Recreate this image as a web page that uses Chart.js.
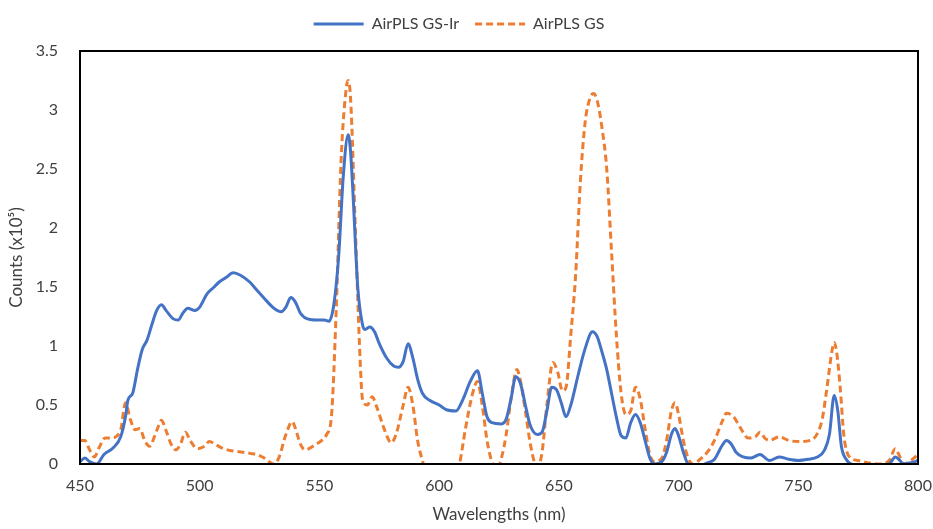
<!DOCTYPE html>
<html>
<head>
  <title>AirPLS spectra</title>
  <script src="https://cdn.jsdelivr.net/npm/chart.js"></script>
  <style>
    body { margin: 0; background: #fff; }
    .box { width: 933px; height: 529px; }
  </style>
</head>
<body>
<div class="box">
  <canvas id="chart" width="933" height="529"></canvas>
</div>
<script>
// AirPLS GS-Ir (blue, solid)
const wlIr = [450,452,454,457,460,464,467,469,470,472,474,476,478,480,482,484,486,489,491,493,495,498,500,503,506,508,511,514,517,521,524,528,531,534,536,538,540,542,545,549,552,554,556,558,560,562,563,564,566,568,569,571,573,575,578,581,583,585,587,589,591,593,596,600,603,607,610,613,616,618,620,622,626,628,630,632,634,636,638,641,643,645,647,649,651,653,655,658,661,664,666,668,670,672,674,676,678,680,682,684,686,688,690,693,695,697,698.5,700,702,704,708,712,715,718,720,722,724,727,730,734,738,742,746,750,754,758,761,763,765,766.5,768,770,772,780,788,790.5,792,794,797,800];
const countsIr = [0.02,0.05,0.02,0.0,0.08,0.14,0.23,0.4,0.54,0.6,0.8,0.97,1.05,1.18,1.3,1.35,1.3,1.23,1.22,1.28,1.32,1.3,1.33,1.44,1.5,1.54,1.58,1.62,1.6,1.54,1.47,1.38,1.32,1.29,1.33,1.41,1.37,1.28,1.23,1.22,1.22,1.21,1.35,1.75,2.45,2.79,2.65,2.3,1.5,1.18,1.14,1.16,1.12,1.02,0.9,0.83,0.82,0.87,1.02,0.9,0.72,0.6,0.54,0.5,0.46,0.45,0.55,0.7,0.79,0.6,0.4,0.35,0.34,0.38,0.55,0.74,0.68,0.5,0.33,0.25,0.27,0.45,0.65,0.63,0.52,0.4,0.5,0.75,0.98,1.12,1.08,0.95,0.8,0.6,0.4,0.24,0.22,0.35,0.42,0.35,0.2,0.05,0.0,0.02,0.1,0.25,0.3,0.24,0.1,0.0,-0.02,0.01,0.04,0.15,0.2,0.17,0.1,0.06,0.05,0.08,0.03,0.06,0.04,0.03,0.04,0.06,0.12,0.25,0.58,0.45,0.15,0.04,0.0,-0.02,0.0,0.06,0.04,0.0,0.01,0.03];

// AirPLS GS (orange, dashed)
const wlGs = [450,452,454,456,458,460.5,463,467,469,471,473,475,477,479,482,484,486,488,490,492,494,496,499,502,504,507,510,514,518,521,524,527,531,533,536,538.6,540,542,544,548,551,553,555,557,559,561,562,563,565,567,568,570,572,574,577,580,582,585,587,589,591,593,595,600,605,608.5,611,614,616,618,620,622,624,626,628,630,632.5,634,636,638,640,641,643,645,647.5,649.5,651.5,653,655,657,659,661,663,664.5,666,668,670,672,674,676,678,680,682,684,686,688,690,693,695,697,698.5,700,702,704,706,709,712,715,718,720,723,726,729,732,734,736,738,742,746,750,755,758,760,762,764,765,766,767.5,769,771,775,779,784,788,790.5,792,794,797,800];
const countsGs = [0.2,0.2,0.12,0.06,0.14,0.22,0.22,0.29,0.52,0.38,0.29,0.3,0.2,0.15,0.28,0.37,0.28,0.17,0.12,0.17,0.27,0.2,0.13,0.15,0.19,0.16,0.13,0.11,0.1,0.09,0.08,0.05,0.0,0.05,0.25,0.36,0.3,0.17,0.12,0.16,0.2,0.25,0.4,1.3,2.55,3.15,3.25,3.1,2.0,0.88,0.55,0.5,0.57,0.48,0.3,0.18,0.25,0.5,0.65,0.5,0.2,0.03,-0.1,-0.3,-0.2,0.0,0.3,0.6,0.7,0.5,0.2,0.02,-0.05,0.05,0.25,0.55,0.8,0.7,0.45,0.18,0.0,-0.03,0.1,0.5,0.86,0.78,0.62,0.65,1.1,1.6,2.4,2.9,3.1,3.14,3.08,2.85,2.5,1.8,1.1,0.6,0.42,0.45,0.65,0.55,0.3,0.08,0.02,0.05,0.2,0.45,0.52,0.42,0.2,0.05,0.0,0.04,0.1,0.2,0.35,0.43,0.4,0.3,0.22,0.23,0.27,0.22,0.2,0.23,0.2,0.19,0.2,0.26,0.38,0.65,0.95,1.03,0.95,0.65,0.25,0.07,0.03,0.01,0.0,0.03,0.13,0.08,0.0,0.03,0.08];

const xTicks = [450, 500, 550, 600, 650, 700, 750, 800];
const yTicks = [0, 0.5, 1, 1.5, 2, 2.5, 3, 3.5];

function toPoints(xs, ys) {
  return xs.map((x, i) => ({ x: x, y: ys[i] }));
}

// black frame round the plot area
const frame = {
  id: 'frame',
  afterDatasetsDraw(chart) {
    const a = chart.chartArea;
    const ctx = chart.ctx;
    ctx.save();
    ctx.strokeStyle = '#000';
    ctx.lineWidth = 2;
    ctx.strokeRect(a.left, a.top, a.right - a.left, a.bottom - a.top);
    ctx.restore();
  }
};

// fixed legend band height so the plot starts where the original does
const legendBand = {
  id: 'legendBand',
  afterInit(chart) {
    const lg = chart.legend;
    const fit = lg.fit.bind(lg);
    lg.fit = function () {
      fit();
      this.height = 51;
    };
  }
};

Chart.defaults.font.family = 'Lato, "Open Sans", sans-serif';
Chart.defaults.color = '#404040';

new Chart(document.getElementById('chart'), {
  type: 'line',
  data: {
    datasets: [{
      label: 'AirPLS GS-Ir',
      data: toPoints(wlIr, countsIr),
      borderColor: '#4472C4',
      backgroundColor: '#4472C4',
      borderWidth: 3,
      pointRadius: 0,
      tension: 0.4,
      cubicInterpolationMode: 'monotone'
    }, {
      label: 'AirPLS GS',
      data: toPoints(wlGs, countsGs),
      borderColor: '#ED7D31',
      backgroundColor: '#ED7D31',
      borderWidth: 3,
      borderDash: [7, 4],
      pointRadius: 0,
      tension: 0.4,
      cubicInterpolationMode: 'monotone'
    }]
  },
  options: {
    responsive: false,
    animation: false,
    layout: { padding: { left: 0, right: 15, top: 0, bottom: 0 } },
    plugins: {
      legend: {
        position: 'top',
        labels: {
          usePointStyle: true,
          pointStyle: 'line',
          pointStyleWidth: 50,
          boxHeight: 10,
          padding: 16,
          font: { size: 16 },
          color: '#404040',
          generateLabels: chart => {
            const items = Chart.defaults.plugins.legend.labels.generateLabels(chart);
            items.forEach(it => {
              it.lineDash = chart.data.datasets[it.datasetIndex].borderDash || [];
              it.lineWidth = 3;
            });
            return items;
          }
        }
      },
      tooltip: { enabled: false }
    },
    scales: {
      x: {
        type: 'linear',
        min: 450,
        max: 800,
        afterBuildTicks: s => { s.ticks = xTicks.map(v => ({ value: v })); },
        afterFit: s => { s.height = 65; s.paddingRight = 0; s.paddingLeft = 0; },
        grid: { display: false },
        border: { display: false },
        ticks: { font: { size: 16 }, color: '#404040', padding: 4 },
        title: { display: true, text: 'Wavelengths (nm)', font: { size: 17 }, color: '#404040', padding: { top: 8 } }
      },
      y: {
        min: 0,
        max: 3.5,
        afterBuildTicks: s => { s.ticks = yTicks.map(v => ({ value: v })); },
        afterFit: s => { s.width = 80; },
        grid: { display: false },
        border: { display: false },
        ticks: { font: { size: 16 }, color: '#404040', padding: 14, callback: v => String(v) },
        title: { display: true, text: 'Counts (x10\u2075)', font: { size: 17 }, color: '#404040', padding: { bottom: 0, top: 6 } }
      }
    }
  },
  plugins: [frame, legendBand]
});
</script>
</body>
</html>
